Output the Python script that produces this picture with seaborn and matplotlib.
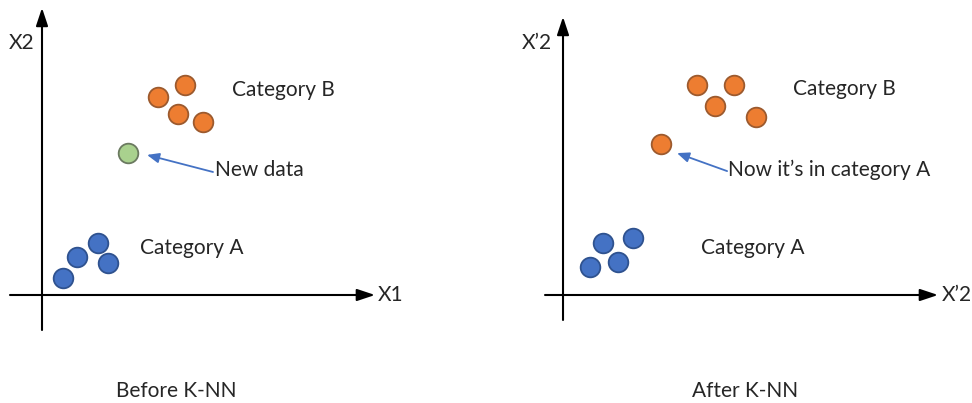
import pandas as pd
import seaborn as sns
import matplotlib.pyplot as plt

# point positions (origin = where the axes cross)
before_x = [3.87, 4.77, 4.53, 5.37, 2.87, 1.87, 1.17, 2.2, 0.7]
before_y = [6.6, 7.0, 6.03, 5.77, 4.73, 1.73, 1.27, 1.07, 0.57]
before_cat = ['B', 'B', 'B', 'B', 'New', 'A', 'A', 'A', 'A']

after_x = [4.47, 5.7, 5.07, 6.43, 3.27, 2.33, 1.33, 1.83, 0.9]
after_y = [7.0, 7.0, 6.3, 5.93, 5.03, 1.9, 1.73, 1.1, 0.93]
after_cat = ['B', 'B', 'B', 'B', 'B', 'A', 'A', 'A', 'A']

fills = {'A': '#4472C4', 'B': '#ED7D31', 'New': '#A9D18E'}
edges = {'A': '#2F528F', 'B': '#9C5A2E', 'New': '#6B7A60'}

sns.set_theme(style='white')
plt.rcParams['font.family'] = ['Lato', 'DejaVu Sans']
FS = 15

fig = plt.figure(figsize=(9.72, 4.03), dpi=100)
ax1 = fig.add_axes([0, 0, 0.5, 1])
ax2 = fig.add_axes([0.5, 0, 0.5, 1])


def draw_panel(ax, xs, ys, cats, xlim, y_axis, x_axis, ylab, xlab, texts, arrow):
    df = pd.DataFrame({'x': xs, 'y': ys, 'cat': cats})
    for c, sub in df.groupby('cat'):
        sns.scatterplot(data=sub, x='x', y='y', ax=ax, s=200, color=fills[c],
                        edgecolor=edges[c], linewidth=1.3, zorder=3, legend=False)
    ax.set_xlim(*xlim)
    ax.set_ylim(-3.6, 9.833)
    ax.set_axis_off()
    # axes drawn as arrows
    ax.annotate('', xy=(0, y_axis[1]), xytext=(0, y_axis[0]),
                arrowprops=dict(arrowstyle='-|>,head_length=0.9,head_width=0.3',
                                color='black', lw=1.5, shrinkA=0, shrinkB=0))
    ax.annotate('', xy=(x_axis[1], 0), xytext=(x_axis[0], 0),
                arrowprops=dict(arrowstyle='-|>,head_length=0.9,head_width=0.3',
                                color='black', lw=1.5, shrinkA=0, shrinkB=0))
    ax.text(ylab[0], ylab[1], ylab[2], ha='center', va='center', fontsize=FS)
    ax.text(xlab[0], xlab[1], xlab[2], ha='left', va='center', fontsize=FS)
    for tx, ty, s in texts:
        ax.text(tx, ty, s, ha='left', va='center', fontsize=FS)
    ax.annotate('', xy=arrow[1], xytext=arrow[0],
                arrowprops=dict(arrowstyle='-|>,head_length=0.6,head_width=0.25',
                                color='#4472C4', lw=1.3, shrinkA=0, shrinkB=0))


draw_panel(ax1, before_x, before_y, before_cat, (-1.4, 14.8),
           (-1.167, 9.57), (-1.067, 11.1),
           (-0.67, 8.4, 'X2'), (11.2, 0, 'X1'),
           [(6.33, 6.83, 'Category B'), (5.77, 4.17, 'New data'),
            (3.27, 1.57, 'Category A')],
           ((5.7, 4.1), (3.5, 4.67)))

draw_panel(ax2, after_x, after_y, after_cat, (-2.567, 13.633),
           (-0.833, 9.27), (-0.6, 12.5),
           (-0.87, 8.4, 'X\u20192'), (12.63, 0, 'X\u20192'),
           [(7.67, 6.87, 'Category B'), (5.5, 4.17, 'Now it\u2019s in category A'),
            (4.6, 1.57, 'Category A')],
           ((5.47, 4.13), (3.8, 4.73)))

fig.text(176 / 972, 1 - 391 / 403, 'Before K-NN', ha='center', va='center', fontsize=FS)
fig.text(745 / 972, 1 - 391 / 403, 'After K-NN', ha='center', va='center', fontsize=FS)

fig.savefig('out.png', dpi=100)
